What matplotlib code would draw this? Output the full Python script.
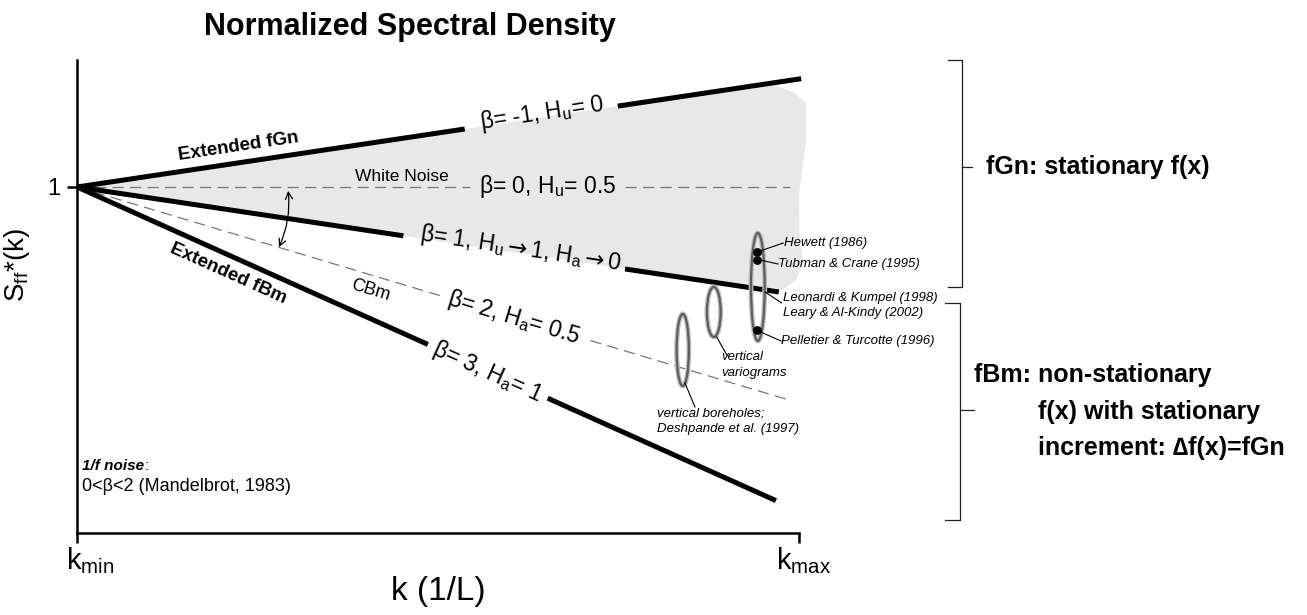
import numpy as np
import matplotlib.pyplot as plt
from matplotlib.patches import Ellipse, Polygon, FancyArrowPatch
from matplotlib.transforms import ScaledTranslation

plt.rcParams['font.family'] = ['Liberation Sans', 'DejaVu Sans']
plt.rcParams['mathtext.fontset'] = 'custom'
plt.rcParams['mathtext.rm'] = 'Liberation Sans'
plt.rcParams['mathtext.it'] = 'Liberation Sans:italic'
plt.rcParams['mathtext.bf'] = 'Liberation Sans:bold'
plt.rcParams['mathtext.sf'] = 'DejaVu Sans'
NARROW = ['Liberation Sans Narrow', 'Liberation Sans', 'DejaVu Sans']

# schematic: log S = -beta * k, k normalised to [kmin, kmax] = [0, 1]
betas = [-1, 0, 1, 2, 3]
solid = [True, False, True, False, True]
seg_start = [[0, 0.749], [0, 0.759], [0, 0.759], [0, 0.711], [0, 0.652]]
seg_end = [[0.537, 1.003], [0.544, 0.988], [0.452, 0.972], [0.503, 0.986], [0.486, 0.968]]
line_labels = [r'β= -1, H$_{\rm u}$= 0', r'β= 0, H$_{\rm u}$= 0.5',
               r'β= 1, H$_{\rm u}$$\mathsf{\rightarrow}$1, H$_{\rm a}$$\mathsf{\rightarrow}$0',
               r'β= 2, H$_{\rm a}$= 0.5', r'β= 3, H$_{\rm a}$= 1']
label_x = [0.645, 0.652, 0.615, 0.605, 0.569]
label_dy = [0.04, 0.0, 0.045, 0.0, 0.0]

# grey fGn region (between beta=-1 and beta=1), right edge drawn by hand
shade_top_end = 0.96
shade_edge_x = [0.994, 1.010, 1.010, 1.000, 1.001, 1.006, 0.996]
shade_edge_y = [0.870, 0.778, 0.435, -0.074, -0.49, -0.694, -0.861]
shade_bot_end = 0.972

# data clusters (ellipses) and literature points
ell_x = [0.839, 0.882, 0.943]
ell_y = [-1.509, -1.157, -0.926]
ell_w = [0.017, 0.019, 0.019]
ell_h = [0.667, 0.463, 1.00]
dot_x = [0.942, 0.942, 0.942]
dot_y = [-0.602, -0.676, -1.324]

refs = ['Hewett (1986)', 'Tubman & Crane (1995)',
        'Leonardi & Kumpel (1998)\nLeary & Al-Kindy (2002)',
        'Pelletier & Turcotte (1996)', 'vertical\nvariograms',
        'vertical boreholes;\nDeshpande et al. (1997)']
lead_x0 = [0.946, 0.946, 0.953, 0.947, 0.886, 0.842]
lead_y0 = [-0.593, -0.676, -0.972, -1.343, -1.389, -1.815]
lead_x1 = [0.978, 0.971, 0.976, 0.975, 0.900, 0.856]
lead_y1 = [-0.519, -0.713, -1.074, -1.426, -1.556, -2.037]
ref_x = [0.979, 0.971, 0.978, 0.975, 0.893, 0.803]
ref_y = [-0.519, -0.713, -1.095, -1.426, -1.648, -2.171]

fig = plt.figure(figsize=(13.07, 6.15), dpi=100)
ax = fig.add_axes([77/1307, 82/615, 722/1307, 473/615])
ax.set_xlim(0, 1)
ax.set_ylim(-3.204, 1.176)

# shading
xt = np.linspace(0, shade_top_end, 20)
xb = np.linspace(shade_bot_end, 0, 20)
pts = list(zip(xt, xt)) + list(zip(shade_edge_x, shade_edge_y)) + list(zip(xb, -xb))
ax.add_patch(Polygon(pts, closed=True, facecolor='#e8e8e8', edgecolor='none',
                     zorder=0, clip_on=False))

# beta lines
for b, s, x0s, x1s, lab, lx, dy in zip(betas, solid, seg_start, seg_end,
                                       line_labels, label_x, label_dy):
    for x0, x1 in zip(x0s, x1s):
        xs = np.array([x0, x1])
        if s:
            ax.plot(xs, -b*xs, color='black', lw=3.6, solid_capstyle='butt',
                    clip_on=False, zorder=3)
        else:
            ax.plot(xs, -b*xs, color='#777777', lw=0.9, dashes=(9, 5),
                    clip_on=False, zorder=2)
    ax.text(lx, -b*lx + dy, lab, fontsize=16.5, ha='center', va='center',
            rotation=np.degrees(np.arctan(-b)), rotation_mode='anchor',
            transform_rotates_text=True)

ax.text(0.224, 0.37, 'Extended fGn', fontsize=13.5, weight='bold', ha='center',
        va='center', rotation=45, rotation_mode='anchor', transform_rotates_text=True)
ax.text(0.209, -0.806, 'Extended fBm', fontsize=13.5, weight='bold', ha='center',
        va='center', rotation=np.degrees(np.arctan(-3)), rotation_mode='anchor',
        transform_rotates_text=True)
ax.text(0.45, 0.093, 'White Noise', fontsize=12.5, ha='center', va='center')
ax.text(0.406, -0.954, 'CBm', fontsize=13, ha='center', va='center',
        rotation=np.degrees(np.arctan(-2)), rotation_mode='anchor',
        transform_rotates_text=True)

ax.add_patch(FancyArrowPatch((0.292, -0.01), (0.278, -0.58),
                             arrowstyle='<->,head_length=5,head_width=2.5',
                             connectionstyle='arc3,rad=-0.15', lw=0.9,
                             color='black', zorder=4))

# clusters
for x, y, w, h in zip(ell_x, ell_y, ell_w, ell_h):
    ax.add_patch(Ellipse((x, y), w, h, facecolor='none', edgecolor='#bdbdbd',
                         lw=3.5, zorder=4, clip_on=False))
    ax.add_patch(Ellipse((x, y), w, h, facecolor='none', edgecolor='#5e5e5e',
                         lw=1.6, zorder=4, clip_on=False))
ax.scatter(dot_x, dot_y, s=28, color='black', zorder=5, clip_on=False)

for t, x0, y0, x1, y1, tx, ty in zip(refs, lead_x0, lead_y0, lead_x1, lead_y1,
                                      ref_x, ref_y):
    ax.plot([x0, x1], [y0, y1], color='black', lw=0.8, clip_on=False, zorder=5)
    ax.text(tx, ty, t, fontsize=9.5, style='italic', ha='left', va='center',
            linespacing=1.35)

ax.text(0.007, -2.583, '1/f noise', fontsize=11, weight='bold', style='italic',
        va='center')
ax.text(0.093, -2.583, ':', fontsize=11, va='center')
ax.text(0.007, -2.778, '0<β<2 (Mandelbrot, 1983)', fontsize=13, va='center',
        family=NARROW)

# brackets on the right
br_x = [[1.206, 1.226, 1.226, 1.206], [1.202, 1.223, 1.223, 1.202]]
br_y = [[1.176, 1.176, -0.926, -0.926], [-1.074, -1.074, -3.083, -3.083]]
br_tick_x = [[1.226, 1.240], [1.223, 1.242]]
br_tick_y = [0.185, -2.065]
for bx, by, tx, ty in zip(br_x, br_y, br_tick_x, br_tick_y):
    ax.plot(bx, by, color='#222222', lw=0.9, clip_on=False)
    ax.plot(tx, [ty, ty], color='#222222', lw=0.9, clip_on=False)

ax.text(1.259, 0.185, 'fGn: stationary f(x)', fontsize=18, weight='bold', va='center')
ax.text(1.242, -1.741, 'fBm: non-stationary', fontsize=18, weight='bold', va='center')
ax.text(1.331, -2.083, 'f(x) with stationary', fontsize=18, weight='bold', va='center')
ax.text(1.331, -2.417, 'increment: ∆f(x)=fGn', fontsize=18, weight='bold', va='center')

# axes
for sp in ['top', 'right']:
    ax.spines[sp].set_visible(False)
for sp in ['left', 'bottom']:
    ax.spines[sp].set_linewidth(1.8)
ax.set_xticks([0, 1], [r'k$_{\rm min}$', r'k$_{\rm max}$'])
ax.set_yticks([0], ['1'])
ax.tick_params(axis='x', length=7, width=1.8, labelsize=21, pad=2)
ax.tick_params(axis='y', length=7, width=1.8, labelsize=17, pad=5)
ax.set_xlabel('k (1/L)', fontsize=24, labelpad=0)
ax.set_ylabel(r'S$_{\rm ff}$*(k)', fontsize=20)
ax.yaxis.set_label_coords(-0.062, 0.567)
for t in ax.get_xticklabels() + [ax.xaxis.label]:
    t.set_family(NARROW)
for t, dx in zip(ax.get_xticklabels(), [0.13, 0.05]):
    t.set_transform(t.get_transform() + ScaledTranslation(dx, 0, fig.dpi_scale_trans))

fig.text(410/1307, 1 - 27/615, 'Normalized Spectral Density', fontsize=22,
         weight='bold', ha='center', va='center')

fig.savefig('out.png', dpi=100)
